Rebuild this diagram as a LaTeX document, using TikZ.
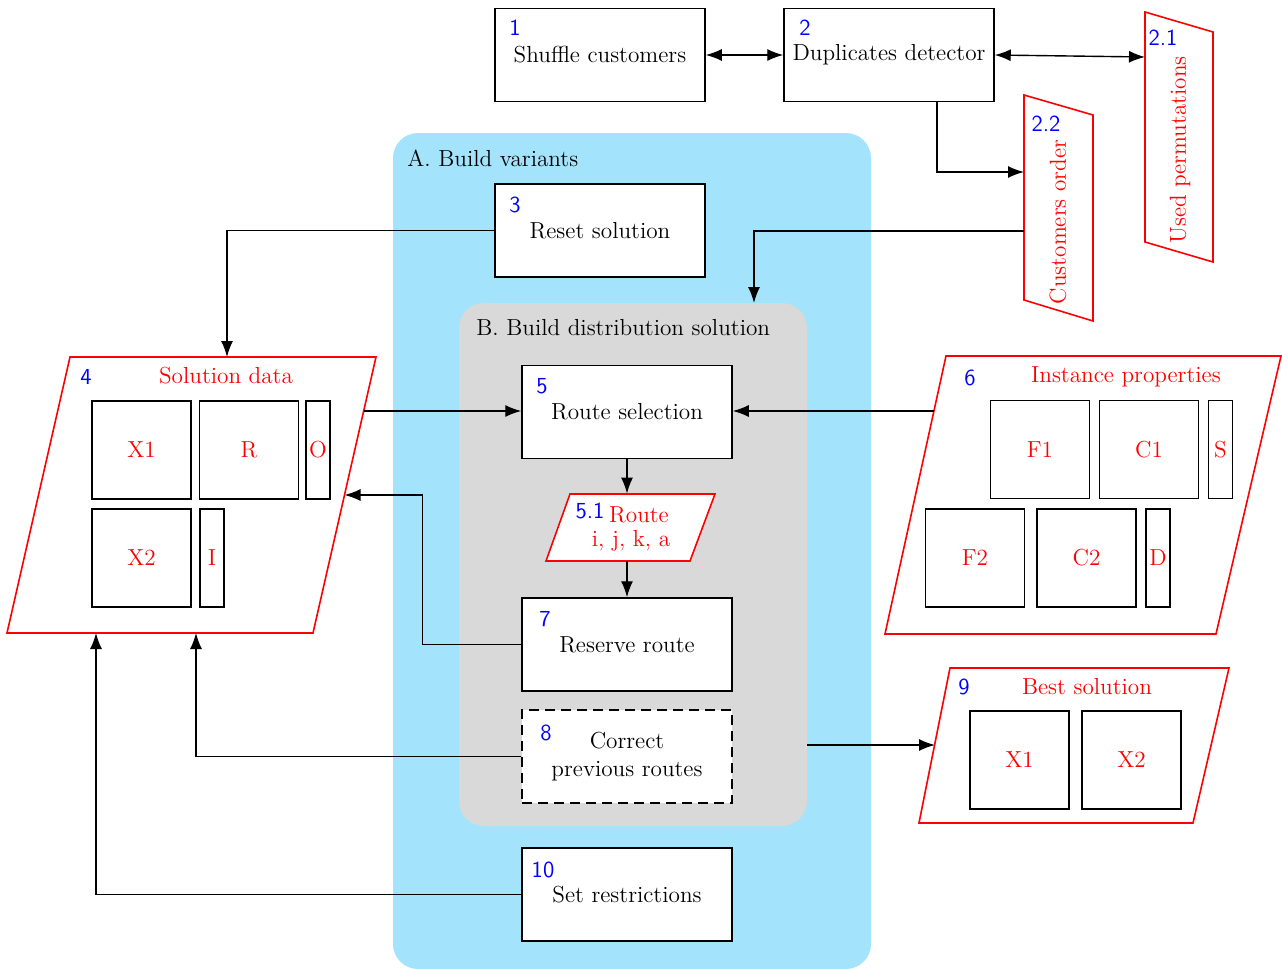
\documentclass[tikz,border=0pt]{standalone}
\usetikzlibrary{arrows.meta,calc}
\definecolor{regA}{HTML}{A3E4FC}
\definecolor{regB}{HTML}{D9D9D9}
\begin{document}
\begin{tikzpicture}[x=0.5pt,y=-0.5pt,
  txt/.style={font=\fontsize{11.6}{14}\selectfont, inner sep=0pt, align=center},
  rtxt/.style={txt, text=red},
  num/.style={font=\sffamily\fontsize{11.5}{13}\selectfont, text=blue, inner sep=0pt},
  proc/.style={draw, fill=white, line width=0.75pt, minimum width=105pt, minimum height=46.5pt, inner sep=0pt, font=\fontsize{11.6}{14}\selectfont, align=center},
  cell/.style={draw, line width=0.7pt, fill=white, text=red, inner sep=0pt, font=\fontsize{11.6}{14}\selectfont, minimum height=49pt},
  bigcell/.style={cell, minimum width=49.5pt},
  thincell/.style={cell, minimum width=12pt},
  data/.style={draw=red, line width=0.8pt, fill=white},
  arr/.style={-{Latex[length=8pt,width=6pt]}, line width=0.7pt},
  darr/.style={{Latex[length=8pt,width=6pt]}-{Latex[length=8pt,width=6pt]}, line width=0.7pt}
]
\useasboundingbox (0,0) rectangle (1282,969);

% regions
\node[fill=regA, rounded corners=12.5pt, minimum width=239pt, minimum height=418pt, inner sep=0pt] (regA) at (632,551) {};
\node[txt, anchor=west] (regAl) at (407,158) {A. Build variants};
\node[fill=regB, rounded corners=12.5pt, minimum width=174pt, minimum height=261.5pt, inner sep=0pt] (regB) at (633,564.5) {};
\node[txt, anchor=west] (regBl) at (476,328) {B. Build distribution solution};

% process boxes
\node[proc] (b1) at (600,55) {Shuffle customers};
\node[num] (n1) at (515,28) {1};
\node[proc] (b2) at (889,55) {Duplicates detector};
\node[num] (n2) at (805,28) {2};
\node[proc] (b3) at (600,230.5) {Reset solution};
\node[num] (n3) at (515,205) {3};
\node[proc] (b5) at (627,412) {Route selection};
\node[num] (n5) at (542,386) {5};
\node[proc] (b7) at (627,644.5) {Reserve route};
\node[num] (n7) at (545,619) {7};
\node[proc, dashed, dash pattern=on 5pt off 3pt] (b8) at (627,756.5) {Correct\\previous routes};
\node[num] (n8) at (546,733) {8};
\node[proc] (b10) at (627,894.5) {Set restrictions};
\node[num] (n10) at (543,870) {10};

% 2.1 used permutations
\draw[data] (1145,12) -- (1213,32) -- (1213,262) -- (1145,242) -- cycle;
\node[rtxt, rotate=90] (t21) at (1180,150) {Used permutations};
\node[num] (n21) at (1163,38) {2.1};
\coordinate (c21) at (1145,57);

% 2.2 customers order
\draw[data] (1024,95) -- (1093,115) -- (1093,321) -- (1024,300) -- cycle;
\node[rtxt, rotate=90] (t22) at (1058,222) {Customers order};
\node[num] (n22) at (1046,124) {2.2};
\coordinate (c22in) at (1024,172);
\coordinate (c22out) at (1024,231);

% 4 solution data
\draw[data] (70,357) -- (376,357) -- (313,633) -- (7,633) -- cycle;
\node[num] (n4) at (86,377) {4};
\node[rtxt] (t4) at (226,376) {Solution data};
\node[bigcell] (s41) at (141.5,450) {X1};
\node[bigcell] (s4r) at (249,450) {R};
\node[thincell] (s4o) at (318,450) {O};
\node[bigcell] (s42) at (141.5,558) {X2};
\node[thincell] (s4i) at (212,558) {I};
\coordinate (c4out) at (363.5,411);
\coordinate (c4in) at (344.5,495);
\coordinate (c4top) at (227,357);
\coordinate (c4b1) at (196,633);
\coordinate (c4b2) at (96,633);

% 6 instance properties
\draw[data] (946,356) -- (1281,356) -- (1216,634) -- (885,634) -- cycle;
\node[num] (n6) at (970,378) {6};
\node[rtxt] (t6) at (1126,377) {Instance properties};
\node[bigcell] (s6f1) at (1040,449.5) {F1};
\node[bigcell] (s6c1) at (1149,449.5) {C1};
\node[thincell] (s6s) at (1220.5,449.5) {S};
\node[bigcell] (s6f2) at (975,558) {F2};
\node[bigcell] (s6c2) at (1086.5,558) {C2};
\node[thincell] (s6d) at (1158,558) {D};
\coordinate (c6) at (934,411);

% 5.1 route
\draw[data] (570,494) -- (715,494) -- (690,561) -- (546,561) -- cycle;
\node[minimum width=60pt, minimum height=33.5pt, inner sep=0pt] (r51) at (630.5,527.5) {};
\node[num] (n51) at (590,511) {5.1};
\node[rtxt] (t51a) at (639,515) {Route};
\node[rtxt] (t51b) at (631,541) {i, j, k, a};

% 9 best solution
\draw[data] (950,668) -- (1229,668) -- (1193,823) -- (919,823) -- cycle;
\node[num] (n9) at (964,687) {9};
\node[rtxt] (t9) at (1087,687) {Best solution};
\node[bigcell] (s91) at (1019.5,760) {X1};
\node[bigcell] (s92) at (1131.5,760) {X2};
\coordinate (c9) at (935,745);
\coordinate (cBout) at (807,745);
\coordinate (cBin) at (754,303);

% connectors
\draw[darr] (b1) -- (b2);
\draw[darr] (b2.east) -- (c21);
\draw[arr] ($(b2.south)+(48,0)$) |- (c22in);
\draw[arr] (c22out) -| (cBin);
\draw[arr] (b3.west) -| (c4top);
\draw[arr] (c4out) -- (b5.west |- c4out);
\draw[arr] (c6) -- (b5.east |- c6);
\draw[arr] (b5.south) -- (b5.south |- r51.north);
\draw[arr] (b7.north |- r51.south) -- (b7.north);
\draw[arr] (b7.west) -- ++(-99,0) |- (c4in);
\draw[arr] (b8.west) -| (c4b1);
\draw[arr] (b10.west) -| (c4b2);
\draw[arr] (cBout) -- (c9);
\end{tikzpicture}
\end{document}
